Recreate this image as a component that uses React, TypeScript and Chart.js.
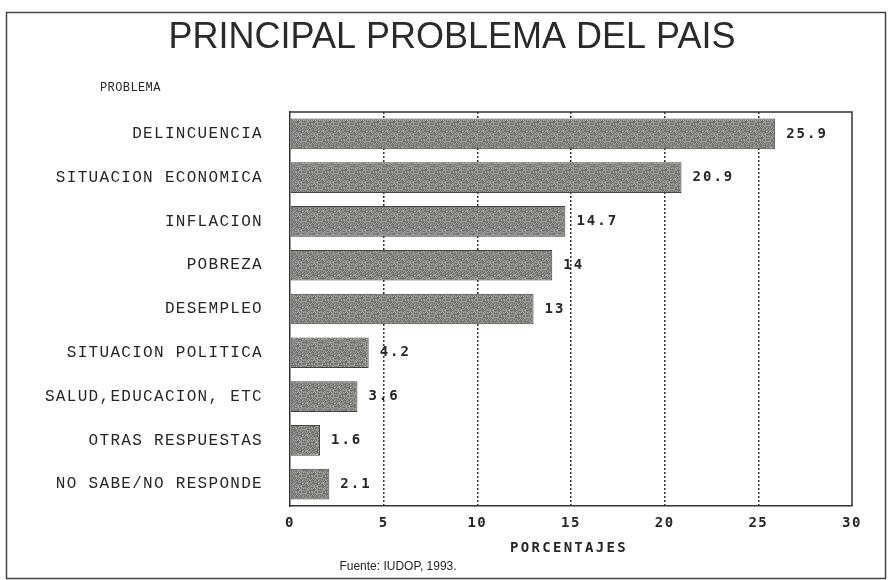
import React, { useEffect, useRef } from "react";
import { Chart, registerables } from "chart.js";

Chart.register(...registerables);

const categories = [
  "DELINCUENCIA",
  "SITUACION ECONOMICA",
  "INFLACION",
  "POBREZA",
  "DESEMPLEO",
  "SITUACION POLITICA",
  "SALUD,EDUCACION, ETC",
  "OTRAS RESPUESTAS",
  "NO SABE/NO RESPONDE",
];
const values = [25.9, 20.9, 14.7, 14, 13, 4.2, 3.6, 1.6, 2.1];
const valueLabels = ["25.9", "20.9", "14.7", "14", "13", "4.2", "3.6", "1.6", "2.1"];
const xMin = 0;
const xMax = 30;
const xStep = 5;
const title = "PRINCIPAL PROBLEMA DEL PAIS";
const yAxisTitle = "PROBLEMA";
const xAxisTitle = "PORCENTAJES";
const source = "Fuente: IUDOP, 1993.";

const INK = "#262626";
const MONO = "'Liberation Mono', 'DejaVu Sans Mono', monospace";
const BOLDMONO = "'DejaVu Sans Mono', 'Liberation Mono', monospace";

function makePattern(): CanvasPattern | string {
  const c = document.createElement("canvas");
  c.width = 16;
  c.height = 16;
  const g = c.getContext("2d");
  if (!g) return "#858581";
  for (let y = 0; y < 16; y++) {
    for (let x = 0; x < 16; x++) {
      const h = (x * 73 + y * 151 + ((x * y) % 7) * 29) % 41;
      const v = 104 + Math.round((h / 40) * 60);
      g.fillStyle = `rgb(${v},${v},${v - 4})`;
      g.fillRect(x, y, 1, 1);
    }
  }
  return g.createPattern(c, "repeat") || "#858581";
}

const decorPlugin = {
  id: "decor",
  beforeDraw(chart: any) {
    const { ctx, width, height } = chart;
    ctx.save();
    ctx.fillStyle = "#ffffff";
    ctx.fillRect(0, 0, width, height);
    ctx.restore();
    (ctx as any).letterSpacing = "1.5px";
  },
  afterDatasetsDraw(chart: any) {
    const { ctx, chartArea } = chart;
    const xs = chart.scales.x;
    const ys = chart.scales.y;
    (ctx as any).letterSpacing = "0px";
    ctx.save();
    // plot box top & right
    ctx.strokeStyle = "#333";
    ctx.lineWidth = 1.5;
    ctx.beginPath();
    ctx.moveTo(chartArea.left, chartArea.top);
    ctx.lineTo(chartArea.right, chartArea.top);
    ctx.lineTo(chartArea.right, chartArea.bottom);
    ctx.stroke();

    // outer frame
    ctx.strokeStyle = "#444";
    ctx.lineWidth = 1.5;
    ctx.strokeRect(6.5, 12.5, 879, 566);

    // title
    ctx.fillStyle = "#2a2a2a";
    ctx.font = "normal 36px 'Liberation Sans', Arial, sans-serif";
    ctx.textAlign = "center";
    ctx.textBaseline = "alphabetic";
    ctx.fillText(title, 452, 48);

    // y axis title
    (ctx as any).letterSpacing = "0.4px";
    ctx.font = `12px ${MONO}`;
    ctx.textAlign = "left";
    ctx.textBaseline = "middle";
    ctx.fillStyle = INK;
    ctx.fillText(yAxisTitle, 100, 88);

    // category labels
    (ctx as any).letterSpacing = "1.3px";
    ctx.font = `16px ${MONO}`;
    ctx.textAlign = "right";
    categories.forEach((c, i) => {
      ctx.fillText(c, 263, ys.getPixelForValue(i));
    });

    // value labels
    (ctx as any).letterSpacing = "2px";
    ctx.font = `bold 14px ${BOLDMONO}`;
    ctx.textAlign = "left";
    values.forEach((v, i) => {
      ctx.fillText(valueLabels[i], xs.getPixelForValue(v) + 11, ys.getPixelForValue(i));
    });

    // x axis title
    (ctx as any).letterSpacing = "2.3px";
    ctx.textAlign = "center";
    ctx.fillText(xAxisTitle, 569, 548);

    // source
    (ctx as any).letterSpacing = "0px";
    ctx.font = "12px 'Liberation Sans', Arial, sans-serif";
    ctx.fillText(source, 398, 567);
    ctx.restore();
    (ctx as any).letterSpacing = "1.5px";
  },
  afterDraw(chart: any) {
    (chart.ctx as any).letterSpacing = "0px";
  },
};

export default function App() {
  const ref = useRef<HTMLCanvasElement | null>(null);
  useEffect(() => {
    document.body.style.margin = "0";
    const canvas = ref.current;
    if (!canvas) return;
    const fill = makePattern();
    const chart = new Chart(canvas, {
      type: "bar",
      data: {
        labels: categories,
        datasets: [
          {
            data: values,
            backgroundColor: fill as any,
            borderColor: "#44443f",
            borderWidth: 1,
            borderSkipped: false,
            categoryPercentage: 1,
            barPercentage: 0.7,
          },
        ],
      },
      options: {
        indexAxis: "y",
        animation: false,
        responsive: false,
        maintainAspectRatio: false,
        layout: { padding: { top: 112, right: 37, left: 0, bottom: 0 } },
        plugins: {
          legend: { display: false },
          tooltip: { enabled: false },
          title: { display: false },
        },
        scales: {
          x: {
            type: "linear",
            min: xMin,
            max: xMax,
            ticks: {
              stepSize: xStep,
              color: INK,
              padding: 9,
              font: { family: BOLDMONO, weight: "bold", size: 14 },
              maxRotation: 0,
            },
            grid: {
              drawTicks: false,
              lineWidth: 1.5,
              color: (c: any) =>
                c.tick && (c.tick.value === xMin || c.tick.value === xMax) ? "rgba(0,0,0,0)" : "#333",
            },
            border: { display: true, color: "#333", width: 1.5, dash: [2, 2] },
            afterFit: (s: any) => {
              s.height = 74;
            },
          },
          y: {
            type: "category",
            ticks: { display: false },
            grid: { display: false, drawTicks: false },
            border: { display: true, color: "#333", width: 1.5 },
            afterFit: (s: any) => {
              s.width = 290;
            },
          },
        },
      },
      plugins: [decorPlugin],
    });
    return () => chart.destroy();
  }, []);
  return (
    <canvas
      ref={ref}
      width={889}
      height={580}
      style={{ display: "block", width: "889px", height: "580px" }}
    />
  );
}
